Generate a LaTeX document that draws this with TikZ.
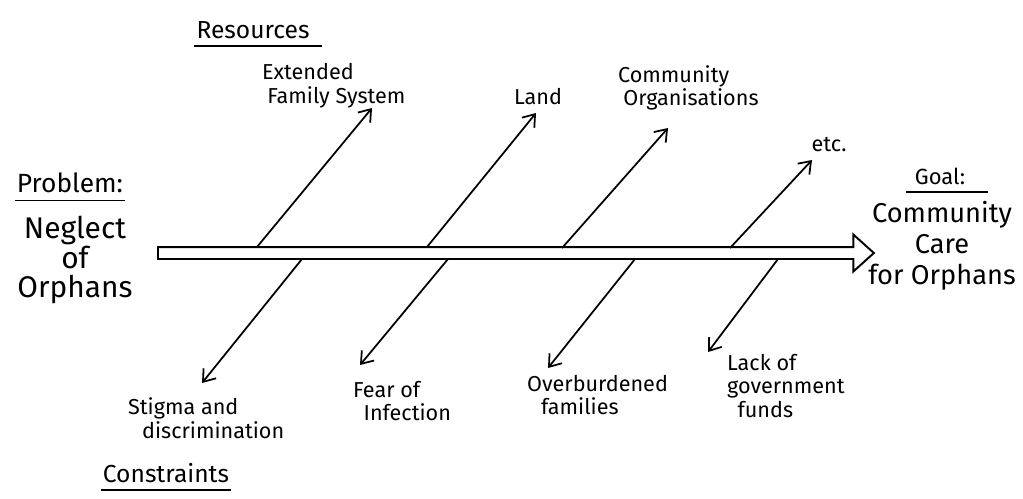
\documentclass[tikz,border=0pt]{standalone}
\usepackage{fontspec}
\setmainfont{Fira Sans}
\usetikzlibrary{arrows.meta,shapes.arrows}

\begin{document}
\begin{tikzpicture}[x=0.02cm, y=-0.02cm, >={Straight Barb[length=2.2mm,width=3.2mm]},
    bone/.style={draw, line width=1pt, ->},
    lbl/.style={font=\fontsize{12.3}{13.5}\selectfont, align=left, inner sep=1pt},
    big/.style={font=\fontsize{17}{17}\selectfont, align=center, inner sep=1pt},
    headlbl/.style={font=\fontsize{14}{16}\selectfont, inner sep=1pt},
    uline/.style={draw, line width=1pt}]
  \useasboundingbox (0,0) rectangle (1023,498);
  % Spine
  \node[draw, line width=1.1pt, single arrow, single arrow head extend=0.25cm,
        single arrow tip angle=84, minimum height=14.32cm, inner sep=0.1cm,
        anchor=west] (spine) at (157,253) {};
  % Problem and goal
  \node[headlbl, font=\fontsize{15}{17}\selectfont] (prob) at (70,183) {Problem:};
  \draw[uline] ([yshift=-3pt]prob.south west) -- ([yshift=-3pt]prob.south east);
  \node[big] (neglect) at (75,260) {Neglect\\of\\Orphans};
  \node[headlbl, font=\fontsize{12.5}{14}\selectfont] (goal) at (940,176) {Goal:};
  \draw[uline] ([yshift=-3pt, xshift=-4pt]goal.south west) -- ([yshift=-3pt, xshift=12pt]goal.south east);
  \node[big, font=\fontsize{15.5}{17.5}\selectfont] (care) at (942,246) {Community\\Care\\for Orphans};
  % Resources
  \node[headlbl] (res) at (253,30) {Resources};
  \draw[uline] ([yshift=-3pt]res.south west) -- ([yshift=-3pt, xshift=6pt]res.south east);
  \node[lbl, anchor=west] (efs) at (260,86) {Extended\\\hspace*{3pt}Family System};
  \node[lbl] (land) at (538,97) {Land};
  \node[lbl, anchor=west] (org) at (616,88) {Community\\\hspace*{3pt}Organisations};
  \node[lbl] (etc) at (829,145) {etc.};
  \coordinate (r1) at (257,247);
  \coordinate (r2) at (427,247);
  \coordinate (r3) at (562,248);
  \coordinate (r4) at (730,248);
  \coordinate (t1) at (372,108);
  \coordinate (t2) at (536,113);
  \coordinate (t3) at (668,128);
  \coordinate (t4) at (812,160);
  \draw[bone] (r1) -- (t1);
  \draw[bone] (r2) -- (t2);
  \draw[bone] (r3) -- (t3);
  \draw[bone] (r4) -- (t4);
  % Constraints
  \node[headlbl] (con) at (166,473) {Constraints};
  \draw[uline] ([yshift=-3pt]con.south west) -- ([yshift=-3pt]con.south east);
  \node[lbl, anchor=west] (stigma) at (126,418) {Stigma and\\\hspace*{8pt}discrimination};
  \node[lbl, anchor=west] (fear) at (351,401) {Fear of\\\hspace*{6pt}Infection};
  \node[lbl, anchor=west] (over) at (525,395) {Overburdened\\\hspace*{8pt}families};
  \node[lbl, anchor=west] (lack) at (725,386) {Lack of\\government\\\hspace*{6pt}funds};
  \coordinate (c1) at (302,259);
  \coordinate (c2) at (448,259);
  \coordinate (c3) at (635,259);
  \coordinate (c4) at (778,259);
  \coordinate (b1) at (202,383);
  \coordinate (b2) at (360,365);
  \coordinate (b3) at (548,368);
  \coordinate (b4) at (708,352);
  \draw[bone] (c1) -- (b1);
  \draw[bone] (c2) -- (b2);
  \draw[bone] (c3) -- (b3);
  \draw[bone] (c4) -- (b4);
\end{tikzpicture}
\end{document}
